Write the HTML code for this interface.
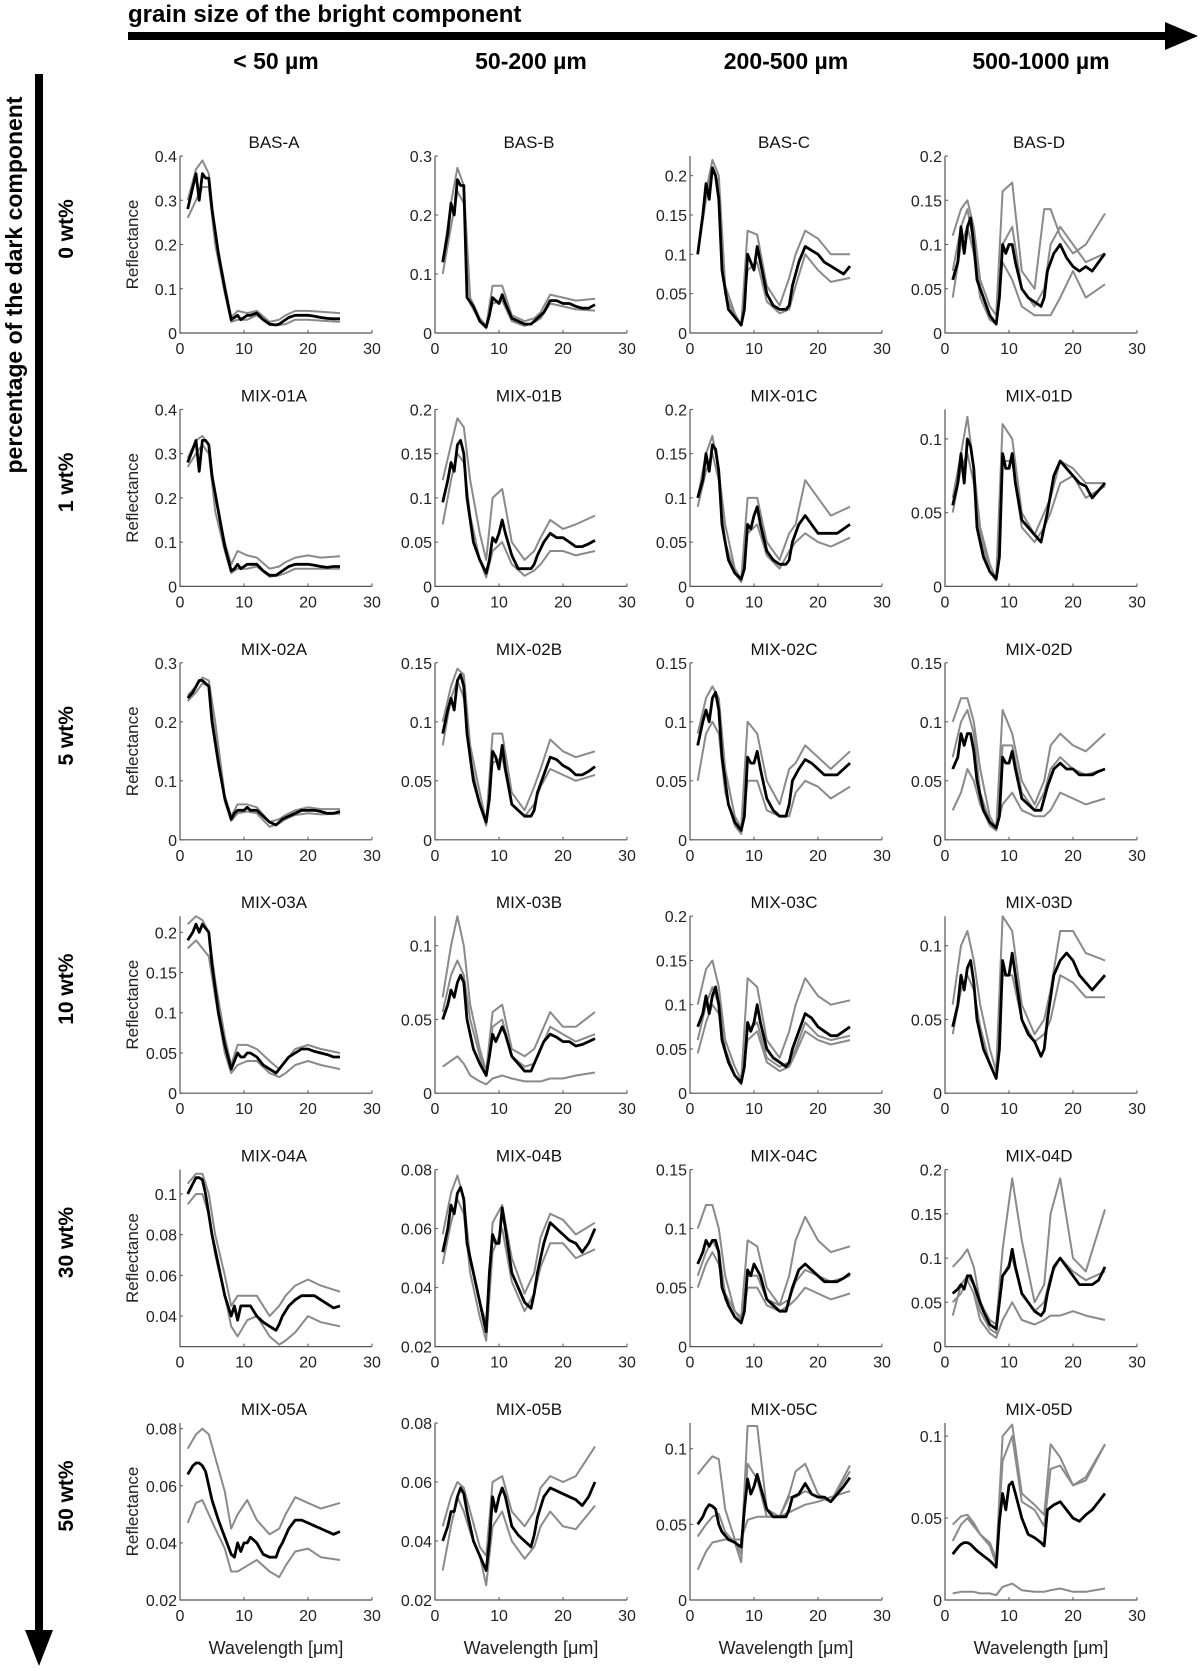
<!DOCTYPE html>
<html><head><meta charset="utf-8"><style>
html,body{margin:0;padding:0;background:#fff}
svg{display:block}
text{font-family:"Liberation Sans",sans-serif}
.b{font-family:"Liberation Sans",sans-serif;font-weight:bold}
</style></head><body>
<svg id="fig" width="1200" height="1671" viewBox="0 0 1200 1671" xmlns="http://www.w3.org/2000/svg">
<text class="b" x="128" y="22" font-size="24" fill="#000">grain size of the bright component</text>
<line x1="128" y1="36" x2="1170" y2="36" stroke="#000" stroke-width="8"/>
<polygon points="1165,22 1198,36 1165,50" fill="#000"/>
<line x1="39" y1="74" x2="39" y2="1635" stroke="#000" stroke-width="8"/>
<polygon points="25,1630 39,1666 53,1630" fill="#000"/>
<text class="b" transform="translate(22,285) rotate(-90)" text-anchor="middle" font-size="23">percentage of the dark component</text>
<g id="plots"></g>
</svg>
<script>
const colHeaders=["< 50 µm","50-200 µm","200-500 µm","500-1000 µm"];
const rowHeaders=["0 wt%","1 wt%","5 wt%","10 wt%","30 wt%","50 wt%"];
const panelNames=["BAS-A","BAS-B","BAS-C","BAS-D","MIX-01A","MIX-01B","MIX-01C","MIX-01D","MIX-02A","MIX-02B","MIX-02C","MIX-02D","MIX-03A","MIX-03B","MIX-03C","MIX-03D","MIX-04A","MIX-04B","MIX-04C","MIX-04D","MIX-05A","MIX-05B","MIX-05C","MIX-05D"];
const yMin=[0,0,0,0, 0,0,0,0, 0,0,0,0, 0,0,0,0, 0.025,0.02,0,0, 0.02,0.02,0,0];
const yMax=[0.4,0.3,0.225,0.2, 0.4,0.2,0.2,0.12, 0.3,0.15,0.15,0.15, 0.22,0.12,0.2,0.12, 0.112,0.08,0.15,0.2, 0.082,0.08,0.117,0.108];
const yTicks=[
[0,0.1,0.2,0.3,0.4],[0,0.1,0.2,0.3],[0,0.05,0.1,0.15,0.2],[0,0.05,0.1,0.15,0.2],
[0,0.1,0.2,0.3,0.4],[0,0.05,0.1,0.15,0.2],[0,0.05,0.1,0.15,0.2],[0,0.05,0.1],
[0,0.1,0.2,0.3],[0,0.05,0.1,0.15],[0,0.05,0.1,0.15],[0,0.05,0.1,0.15],
[0,0.05,0.1,0.15,0.2],[0,0.05,0.1],[0,0.05,0.1,0.15,0.2],[0,0.05,0.1],
[0.04,0.06,0.08,0.1],[0.02,0.04,0.06,0.08],[0,0.05,0.1,0.15],[0,0.05,0.1,0.15,0.2],
[0.02,0.04,0.06,0.08],[0.02,0.04,0.06,0.08],[0,0.05,0.1],[0,0.05,0.1]];
const xTicks=[0,10,20,30];
const wlMain=[1.2,2,2.5,3,3.5,4,4.5,5,6,7,8,8.5,9,9.5,10,10.5,11,12,13,14,15,15.5,16,17,18,19,20,21,22,23,24,25];
const wlGray=[1.2,2.5,3.5,4.5,5.5,7,8,9,10.5,12,14,15.5,16.5,18,20,22,25];
const meanSeries=[
[0.28,0.33,0.36,0.30,0.36,0.35,0.35,0.28,0.18,0.10,0.03,0.035,0.04,0.03,0.035,0.04,0.04,0.045,0.03,0.02,0.018,0.02,0.025,0.035,0.04,0.04,0.04,0.038,0.035,0.033,0.032,0.032],
[0.12,0.17,0.22,0.2,0.26,0.25,0.25,0.06,0.045,0.02,0.01,0.03,0.06,0.055,0.05,0.065,0.05,0.025,0.02,0.015,0.015,0.02,0.025,0.035,0.055,0.055,0.05,0.05,0.045,0.042,0.042,0.048],
[0.1,0.15,0.19,0.17,0.21,0.2,0.17,0.08,0.03,0.02,0.01,0.03,0.1,0.09,0.08,0.11,0.09,0.05,0.035,0.03,0.03,0.035,0.06,0.09,0.11,0.105,0.1,0.09,0.085,0.08,0.075,0.085],
[0.06,0.08,0.12,0.09,0.12,0.13,0.1,0.06,0.04,0.02,0.01,0.04,0.1,0.09,0.1,0.1,0.08,0.05,0.04,0.035,0.03,0.04,0.07,0.09,0.1,0.085,0.075,0.07,0.075,0.07,0.08,0.09],
[0.28,0.31,0.33,0.26,0.33,0.33,0.32,0.25,0.17,0.09,0.035,0.04,0.05,0.04,0.045,0.05,0.05,0.05,0.035,0.025,0.025,0.03,0.035,0.045,0.05,0.05,0.05,0.048,0.045,0.043,0.045,0.045],
[0.095,0.12,0.14,0.13,0.16,0.165,0.15,0.1,0.05,0.03,0.015,0.03,0.055,0.05,0.06,0.075,0.06,0.035,0.02,0.02,0.02,0.025,0.035,0.05,0.06,0.055,0.055,0.05,0.045,0.045,0.048,0.052],
[0.1,0.12,0.15,0.13,0.16,0.155,0.13,0.07,0.03,0.015,0.008,0.02,0.07,0.065,0.08,0.09,0.07,0.04,0.03,0.025,0.025,0.03,0.05,0.07,0.08,0.07,0.06,0.06,0.06,0.06,0.065,0.07],
[0.055,0.07,0.09,0.07,0.1,0.095,0.08,0.04,0.02,0.01,0.005,0.02,0.09,0.08,0.08,0.09,0.07,0.045,0.04,0.035,0.03,0.04,0.05,0.075,0.085,0.08,0.075,0.07,0.068,0.06,0.065,0.07],
[0.24,0.25,0.26,0.27,0.27,0.265,0.26,0.2,0.13,0.07,0.035,0.045,0.05,0.05,0.05,0.055,0.05,0.05,0.04,0.03,0.025,0.03,0.035,0.04,0.045,0.05,0.05,0.05,0.048,0.045,0.045,0.048],
[0.09,0.11,0.12,0.11,0.135,0.14,0.13,0.09,0.05,0.03,0.015,0.035,0.075,0.07,0.06,0.08,0.06,0.03,0.025,0.02,0.02,0.025,0.04,0.055,0.07,0.068,0.063,0.06,0.055,0.055,0.058,0.062],
[0.08,0.1,0.11,0.1,0.12,0.125,0.11,0.07,0.03,0.015,0.008,0.02,0.07,0.065,0.065,0.075,0.06,0.035,0.025,0.02,0.02,0.03,0.05,0.06,0.068,0.065,0.06,0.055,0.055,0.055,0.06,0.065],
[0.06,0.07,0.09,0.08,0.09,0.09,0.075,0.05,0.025,0.015,0.01,0.02,0.07,0.065,0.065,0.075,0.06,0.035,0.03,0.025,0.025,0.035,0.045,0.06,0.065,0.06,0.06,0.055,0.055,0.055,0.058,0.06],
[0.19,0.2,0.21,0.2,0.21,0.205,0.2,0.16,0.1,0.06,0.03,0.04,0.05,0.045,0.045,0.05,0.05,0.045,0.035,0.03,0.025,0.03,0.035,0.045,0.05,0.055,0.055,0.052,0.05,0.048,0.045,0.045],
[0.05,0.06,0.07,0.065,0.075,0.08,0.075,0.05,0.03,0.02,0.012,0.025,0.04,0.035,0.04,0.045,0.04,0.025,0.02,0.015,0.015,0.02,0.025,0.035,0.04,0.038,0.035,0.035,0.032,0.033,0.035,0.037],
[0.075,0.09,0.11,0.09,0.11,0.12,0.1,0.06,0.035,0.02,0.012,0.03,0.08,0.07,0.08,0.1,0.08,0.05,0.04,0.035,0.03,0.035,0.05,0.07,0.09,0.085,0.075,0.07,0.065,0.065,0.07,0.075],
[0.045,0.06,0.08,0.07,0.085,0.09,0.075,0.05,0.03,0.02,0.01,0.03,0.09,0.08,0.08,0.095,0.08,0.05,0.04,0.035,0.025,0.03,0.05,0.08,0.09,0.095,0.09,0.08,0.075,0.07,0.075,0.08],
[0.1,0.105,0.108,0.108,0.107,0.1,0.09,0.08,0.065,0.05,0.04,0.045,0.038,0.045,0.045,0.045,0.045,0.04,0.037,0.035,0.033,0.036,0.04,0.045,0.048,0.05,0.05,0.05,0.048,0.046,0.044,0.045],
[0.052,0.06,0.068,0.065,0.072,0.074,0.07,0.055,0.045,0.035,0.025,0.045,0.058,0.055,0.055,0.067,0.06,0.045,0.04,0.035,0.033,0.038,0.045,0.055,0.062,0.06,0.058,0.056,0.055,0.052,0.055,0.06],
[0.07,0.08,0.09,0.085,0.09,0.09,0.08,0.05,0.035,0.025,0.02,0.03,0.065,0.06,0.07,0.065,0.06,0.04,0.035,0.03,0.03,0.04,0.05,0.065,0.07,0.065,0.06,0.055,0.055,0.055,0.058,0.062],
[0.06,0.065,0.07,0.065,0.08,0.08,0.07,0.06,0.04,0.025,0.02,0.05,0.08,0.085,0.09,0.11,0.09,0.06,0.05,0.04,0.035,0.04,0.06,0.09,0.1,0.09,0.08,0.07,0.07,0.07,0.075,0.09],
[0.064,0.067,0.068,0.068,0.067,0.065,0.06,0.055,0.048,0.042,0.036,0.035,0.04,0.037,0.04,0.04,0.042,0.04,0.036,0.035,0.035,0.038,0.04,0.045,0.048,0.048,0.047,0.046,0.045,0.044,0.043,0.044],
[0.04,0.045,0.05,0.05,0.055,0.058,0.056,0.05,0.04,0.035,0.03,0.04,0.055,0.05,0.055,0.058,0.055,0.045,0.042,0.04,0.038,0.042,0.048,0.055,0.058,0.057,0.056,0.055,0.054,0.052,0.055,0.06],
[0.05,0.055,0.06,0.063,0.062,0.06,0.05,0.045,0.04,0.038,0.035,0.06,0.08,0.07,0.075,0.083,0.075,0.06,0.055,0.055,0.055,0.06,0.068,0.07,0.077,0.07,0.068,0.068,0.065,0.07,0.075,0.081],
[0.028,0.032,0.034,0.035,0.035,0.034,0.032,0.03,0.027,0.024,0.02,0.048,0.065,0.055,0.07,0.072,0.065,0.05,0.04,0.038,0.035,0.033,0.055,0.058,0.06,0.055,0.05,0.048,0.052,0.055,0.06,0.065]];
const sampleSeries=[
[[0.3,0.37,0.39,0.36,0.22,0.11,0.035,0.05,0.045,0.05,0.025,0.03,0.04,0.05,0.05,0.048,0.045],[0.26,0.3,0.33,0.33,0.2,0.09,0.025,0.03,0.03,0.04,0.018,0.018,0.02,0.03,0.03,0.028,0.025]],
[[0.12,0.22,0.28,0.25,0.06,0.025,0.012,0.08,0.08,0.03,0.02,0.025,0.035,0.065,0.06,0.055,0.058],[0.1,0.18,0.24,0.22,0.05,0.02,0.008,0.05,0.055,0.02,0.012,0.018,0.025,0.05,0.045,0.04,0.038]],
[[0.1,0.18,0.22,0.2,0.06,0.025,0.01,0.13,0.125,0.06,0.035,0.07,0.1,0.13,0.12,0.1,0.1],[0.1,0.17,0.21,0.19,0.05,0.02,0.01,0.08,0.09,0.04,0.025,0.03,0.06,0.1,0.08,0.065,0.07]],
[[0.11,0.14,0.15,0.12,0.06,0.03,0.02,0.16,0.17,0.07,0.05,0.14,0.14,0.11,0.09,0.1,0.135],[0.04,0.1,0.12,0.09,0.04,0.015,0.01,0.08,0.06,0.03,0.02,0.02,0.02,0.04,0.07,0.04,0.055],[0.07,0.12,0.14,0.1,0.05,0.02,0.01,0.1,0.12,0.05,0.03,0.05,0.1,0.12,0.1,0.08,0.09]],
[[0.29,0.33,0.34,0.32,0.2,0.1,0.05,0.08,0.07,0.065,0.04,0.045,0.055,0.065,0.07,0.065,0.068],[0.27,0.3,0.32,0.3,0.17,0.08,0.03,0.04,0.04,0.045,0.022,0.025,0.03,0.04,0.04,0.04,0.04]],
[[0.12,0.16,0.19,0.18,0.12,0.06,0.03,0.1,0.11,0.05,0.03,0.04,0.055,0.075,0.065,0.07,0.08],[0.07,0.12,0.15,0.14,0.08,0.03,0.01,0.04,0.05,0.025,0.012,0.018,0.025,0.04,0.04,0.035,0.04]],
[[0.1,0.15,0.17,0.13,0.07,0.02,0.008,0.1,0.1,0.05,0.03,0.06,0.07,0.12,0.1,0.08,0.09],[0.09,0.13,0.15,0.12,0.05,0.015,0.005,0.06,0.07,0.035,0.02,0.04,0.05,0.06,0.05,0.045,0.055]],
[[0.06,0.09,0.115,0.08,0.04,0.015,0.005,0.11,0.1,0.05,0.035,0.05,0.06,0.085,0.08,0.07,0.07],[0.05,0.08,0.09,0.07,0.035,0.01,0.004,0.085,0.085,0.04,0.03,0.04,0.05,0.07,0.075,0.06,0.068]],
[[0.245,0.26,0.275,0.27,0.2,0.075,0.04,0.06,0.06,0.055,0.03,0.035,0.042,0.05,0.055,0.052,0.052],[0.235,0.25,0.265,0.26,0.19,0.065,0.032,0.045,0.048,0.045,0.022,0.028,0.035,0.042,0.045,0.043,0.044]],
[[0.1,0.13,0.145,0.14,0.08,0.04,0.015,0.09,0.09,0.04,0.025,0.045,0.06,0.085,0.075,0.07,0.075],[0.08,0.12,0.135,0.12,0.07,0.03,0.012,0.065,0.07,0.03,0.02,0.03,0.045,0.06,0.055,0.05,0.055]],
[[0.09,0.12,0.13,0.12,0.06,0.02,0.01,0.1,0.09,0.05,0.03,0.06,0.065,0.08,0.07,0.06,0.075],[0.05,0.09,0.1,0.09,0.04,0.012,0.005,0.05,0.05,0.025,0.02,0.02,0.04,0.05,0.045,0.035,0.045]],
[[0.1,0.12,0.12,0.1,0.06,0.02,0.01,0.11,0.09,0.05,0.03,0.05,0.08,0.09,0.08,0.075,0.09],[0.025,0.04,0.06,0.05,0.03,0.012,0.008,0.03,0.04,0.025,0.02,0.02,0.025,0.04,0.035,0.03,0.035],[0.07,0.1,0.11,0.09,0.04,0.015,0.008,0.08,0.08,0.04,0.025,0.04,0.06,0.07,0.06,0.055,0.06]],
[[0.21,0.22,0.215,0.2,0.14,0.07,0.035,0.06,0.06,0.055,0.04,0.03,0.04,0.055,0.06,0.055,0.05],[0.18,0.19,0.18,0.17,0.12,0.05,0.025,0.035,0.04,0.04,0.025,0.02,0.025,0.035,0.04,0.035,0.03]],
[[0.065,0.1,0.12,0.1,0.06,0.03,0.015,0.055,0.06,0.03,0.025,0.03,0.04,0.055,0.045,0.045,0.055],[0.018,0.022,0.025,0.02,0.012,0.008,0.006,0.01,0.012,0.01,0.008,0.008,0.008,0.01,0.01,0.012,0.014],[0.055,0.08,0.09,0.08,0.05,0.025,0.012,0.045,0.05,0.025,0.018,0.02,0.03,0.045,0.04,0.035,0.04]],
[[0.1,0.14,0.15,0.12,0.06,0.03,0.015,0.13,0.12,0.06,0.04,0.07,0.1,0.13,0.11,0.1,0.105],[0.045,0.08,0.1,0.09,0.05,0.02,0.01,0.06,0.07,0.035,0.025,0.03,0.045,0.07,0.06,0.055,0.06],[0.06,0.1,0.12,0.1,0.05,0.02,0.01,0.07,0.08,0.04,0.03,0.035,0.05,0.08,0.065,0.06,0.065]],
[[0.06,0.1,0.11,0.09,0.06,0.03,0.015,0.12,0.11,0.06,0.04,0.05,0.07,0.11,0.11,0.095,0.09],[0.04,0.07,0.08,0.07,0.045,0.02,0.01,0.08,0.08,0.05,0.035,0.04,0.05,0.08,0.075,0.065,0.065]],
[[0.105,0.11,0.11,0.1,0.08,0.06,0.045,0.05,0.05,0.05,0.04,0.045,0.05,0.055,0.058,0.055,0.052],[0.095,0.1,0.1,0.09,0.07,0.05,0.035,0.03,0.038,0.04,0.03,0.026,0.028,0.032,0.04,0.037,0.035]],
[[0.058,0.072,0.078,0.07,0.05,0.035,0.028,0.062,0.068,0.05,0.038,0.045,0.057,0.065,0.063,0.058,0.062],[0.048,0.062,0.07,0.065,0.045,0.03,0.022,0.052,0.06,0.042,0.032,0.038,0.047,0.055,0.055,0.05,0.053]],
[[0.1,0.12,0.12,0.1,0.06,0.03,0.025,0.09,0.085,0.05,0.035,0.06,0.09,0.11,0.09,0.08,0.085],[0.05,0.07,0.08,0.07,0.04,0.025,0.02,0.05,0.05,0.035,0.03,0.035,0.04,0.05,0.045,0.04,0.045],[0.06,0.08,0.09,0.08,0.045,0.03,0.022,0.06,0.06,0.04,0.035,0.04,0.055,0.065,0.06,0.055,0.06]],
[[0.09,0.1,0.11,0.09,0.05,0.03,0.025,0.11,0.19,0.12,0.05,0.07,0.15,0.19,0.1,0.085,0.155],[0.05,0.06,0.075,0.06,0.03,0.015,0.01,0.03,0.05,0.03,0.025,0.03,0.035,0.035,0.04,0.035,0.03],[0.035,0.07,0.08,0.07,0.04,0.02,0.015,0.08,0.1,0.06,0.04,0.05,0.08,0.1,0.085,0.075,0.085]],
[[0.073,0.078,0.08,0.078,0.07,0.058,0.045,0.05,0.055,0.048,0.043,0.045,0.05,0.056,0.054,0.052,0.054],[0.047,0.054,0.055,0.05,0.045,0.038,0.03,0.03,0.032,0.034,0.03,0.028,0.032,0.037,0.038,0.035,0.034]],
[[0.045,0.055,0.06,0.058,0.05,0.038,0.035,0.06,0.062,0.05,0.045,0.05,0.058,0.062,0.06,0.062,0.072],[0.03,0.045,0.055,0.05,0.043,0.035,0.025,0.045,0.05,0.04,0.034,0.038,0.045,0.05,0.045,0.044,0.052]],
[[0.083,0.09,0.095,0.093,0.06,0.04,0.03,0.115,0.115,0.06,0.055,0.07,0.085,0.09,0.07,0.065,0.089],[0.02,0.032,0.038,0.039,0.04,0.04,0.04,0.053,0.055,0.055,0.055,0.058,0.06,0.063,0.065,0.068,0.072],[0.042,0.05,0.055,0.057,0.045,0.038,0.025,0.09,0.08,0.055,0.055,0.068,0.068,0.072,0.068,0.065,0.085]],
[[0.046,0.051,0.052,0.047,0.04,0.035,0.025,0.1,0.107,0.065,0.058,0.052,0.095,0.087,0.07,0.075,0.095],[0.036,0.046,0.05,0.045,0.04,0.033,0.022,0.085,0.1,0.06,0.055,0.045,0.08,0.082,0.07,0.073,0.095],[0.004,0.005,0.005,0.005,0.004,0.004,0.003,0.008,0.01,0.006,0.005,0.005,0.006,0.007,0.005,0.005,0.007]]];

const NS="http://www.w3.org/2000/svg";
const root=document.getElementById('plots');
const X0=180, DX=255, Y0=333, DY=253.4, PW=192, PH=177;
function mk(tag,attrs,parent){const e=document.createElementNS(NS,tag);for(const k in attrs)e.setAttribute(k,attrs[k]);(parent||root).appendChild(e);return e;}
function fmt(v){return String(+v.toFixed(3));}

for(let c=0;c<4;c++){
  const t=mk('text',{x:X0+DX*c+96,y:69,'text-anchor':'middle','font-size':23,'class':'b'});
  
  
  t.textContent=colHeaders[c];
}
for(let r=0;r<6;r++){
  const cy=Y0+DY*r-104;
  const t=mk('text',{transform:`translate(73,${cy}) rotate(-90)`,'text-anchor':'middle','font-size':21,'class':'b'});
  
  
  t.textContent=rowHeaders[r];
}

for(let i=0;i<24;i++){
  const r=Math.floor(i/4), c=i%4;
  const x0=X0+DX*c, y0=Y0+DY*r;
  const lo=yMin[i], hi=yMax[i];
  const sx=v=>x0+v/30*PW;
  const sy=v=>y0-(v-lo)/(hi-lo)*PH;
  const g=mk('g',{});
  
  
  const ti=mk('text',{x:x0+94,y:y0-PH-8,'text-anchor':'middle','font-size':17,fill:'#111'},g);
  
  
  ti.textContent=panelNames[i];
  const ax=mk('path',{d:`M${x0},${y0-PH}V${y0}H${x0+PW}`,stroke:'#555',fill:'none','stroke-width':1.2},g);
  
  
  xTicks.forEach(v=>{
    mk('line',{x1:sx(v),y1:y0,x2:sx(v),y2:y0-3,stroke:'#555'},g);
    const t=mk('text',{x:sx(v),y:y0+21,'text-anchor':'middle','font-size':16,fill:'#222'},g);
    
    
    t.textContent=v;
  });
  yTicks[i].forEach(v=>{
    mk('line',{x1:x0,y1:sy(v),x2:x0+3,y2:sy(v),stroke:'#555'},g);
    const t=mk('text',{x:x0-3,y:sy(v)+6,'text-anchor':'end','font-size':16,fill:'#222'},g);
    
    
    t.textContent=fmt(v);
  });
  sampleSeries[i].forEach(s=>{
    const p=mk('polyline',{points:s.map((v,k)=>sx(wlGray[k]).toFixed(1)+','+sy(v).toFixed(1)).join(' '),fill:'none',stroke:'#8a8a8a','stroke-width':2,'stroke-linejoin':'round'},g);
    
    
  });
  const m=mk('polyline',{points:meanSeries[i].map((v,k)=>sx(wlMain[k]).toFixed(1)+','+sy(v).toFixed(1)).join(' '),fill:'none',stroke:'#000','stroke-width':2.8,'stroke-linejoin':'round'},g);
  
  
  if(c===0){
    const yl=mk('text',{transform:`translate(${x0-42},${y0-PH/2}) rotate(-90)`,'text-anchor':'middle','font-size':17,fill:'#222'},g);
    
    
    yl.textContent='Reflectance';
  }
  if(r===5){
    const xl=mk('text',{x:x0+96,y:y0+54,'text-anchor':'middle','font-size':18,fill:'#222'},g);
    
    
    xl.textContent='Wavelength [μm]';
  }
}
</script>
</body></html>
